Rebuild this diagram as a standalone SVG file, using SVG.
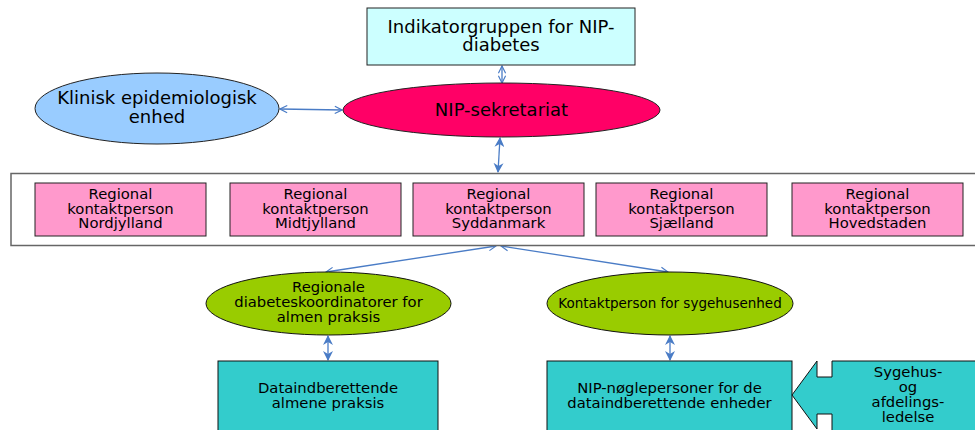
<svg xmlns="http://www.w3.org/2000/svg" width="975" height="430" viewBox="0 0 975 430">
<defs>
<style>
text{font-family:"DejaVu Sans","Liberation Sans",sans-serif;fill:#000;text-anchor:middle}
.t18{font-size:18px}
.t15{font-size:14.8px}
.t13{font-size:13.5px}
.box{stroke:#222;stroke-width:1}
.pink{fill:#FF99CC;stroke:#222;stroke-width:1}
.green{fill:#99CC00;stroke:#111;stroke-width:1}
.teal{fill:#33CCCC;stroke:#111;stroke-width:1}
.con{stroke:#4A7CC6;stroke-width:1.3;fill:none}
.open{marker-start:url(#vo);marker-end:url(#vo)}
.solid{marker-start:url(#vs);marker-end:url(#vs)}
</style>
<marker id="vo" viewBox="0 0 10 10" refX="9" refY="5" markerWidth="9" markerHeight="9" markerUnits="userSpaceOnUse" orient="auto-start-reverse">
<path d="M1,1 L9,5 L1,9" fill="none" stroke="#4A7CC6" stroke-width="1.3"/>
</marker>
<marker id="vs" viewBox="0 0 10 10" refX="9" refY="5" markerWidth="10" markerHeight="10" markerUnits="userSpaceOnUse" orient="auto-start-reverse">
<path d="M0,0 L10,5 L0,10 L3,5 Z" fill="#4A7CC6"/>
</marker>
</defs>

<g id="connectors">
<line class="con open" x1="502" y1="66" x2="502" y2="83"/>
<line class="con open" x1="280" y1="109" x2="342" y2="110"/>
<line class="con solid" x1="500" y1="138" x2="498" y2="172"/>
<line class="con open" x1="496" y1="246" x2="326" y2="272"/>
<line class="con open" x1="501" y1="246" x2="668" y2="272"/>
<line class="con solid" x1="328" y1="336" x2="328" y2="360"/>
<line class="con solid" x1="670" y1="336" x2="670" y2="360"/>
</g>

<g id="indikatorgruppen">
<rect x="367" y="8" width="268" height="57" fill="#CCFFFF" class="box"/>
<text class="t18" x="501" y="33">Indikatorgruppen for NIP-</text>
<text class="t18" x="501" y="51">diabetes</text>
</g>

<g id="klinisk">
<ellipse cx="157" cy="108.5" rx="122" ry="35.5" fill="#99CCFF" class="box"/>
<text class="t18" x="157" y="104">Klinisk epidemiologisk</text>
<text class="t18" x="157" y="123">enhed</text>
</g>

<g id="sekretariat">
<ellipse cx="501.5" cy="110" rx="158.5" ry="27" fill="#FF0066" class="box"/>
<text class="t18" x="501.5" y="116">NIP-sekretariat</text>
</g>

<g id="regioner">
<rect x="11" y="173.5" width="975" height="72" fill="#FFFFFF" stroke="#666" stroke-width="1.5"/>
</g>

<g id="nordjylland">
<rect class="pink" x="35" y="183" width="171" height="53"/>
<text class="t15" x="120.5" y="199">Regional</text>
<text class="t15" x="120.5" y="213.5">kontaktperson</text>
<text class="t15" x="120.5" y="228">Nordjylland</text>
</g>
<g id="midtjylland">
<rect class="pink" x="230" y="183" width="171" height="53"/>
<text class="t15" x="315.5" y="199">Regional</text>
<text class="t15" x="315.5" y="213.5">kontaktperson</text>
<text class="t15" x="315.5" y="228">Midtjylland</text>
</g>
<g id="syddanmark">
<rect class="pink" x="413" y="183" width="171" height="53"/>
<text class="t15" x="498.5" y="199">Regional</text>
<text class="t15" x="498.5" y="213.5">kontaktperson</text>
<text class="t15" x="498.5" y="228">Syddanmark</text>
</g>
<g id="sjaelland">
<rect class="pink" x="596" y="183" width="171" height="53"/>
<text class="t15" x="681.5" y="199">Regional</text>
<text class="t15" x="681.5" y="213.5">kontaktperson</text>
<text class="t15" x="681.5" y="228">Sjælland</text>
</g>
<g id="hovedstaden">
<rect class="pink" x="792" y="183" width="171" height="53"/>
<text class="t15" x="877.5" y="199">Regional</text>
<text class="t15" x="877.5" y="213.5">kontaktperson</text>
<text class="t15" x="877.5" y="228">Hovedstaden</text>
</g>

<g id="diabeteskoordinatorer">
<ellipse class="green" cx="328.5" cy="303.5" rx="122.5" ry="31.5"/>
<text class="t15" x="328.5" y="292">Regionale</text>
<text class="t15" x="328.5" y="307">diabeteskoordinatorer for</text>
<text class="t15" x="328.5" y="322">almen praksis</text>
</g>

<g id="kontaktperson-sygehus">
<ellipse class="green" cx="670" cy="303.5" rx="123" ry="31.5"/>
<text class="t13" x="670" y="308">Kontaktperson for sygehusenhed</text>
</g>

<g id="almene-praksis">
<rect class="teal" x="218" y="361" width="220" height="80"/>
<text class="t15" x="328" y="393">Dataindberettende</text>
<text class="t15" x="328" y="408">almene praksis</text>
</g>

<g id="noeglepersoner">
<rect class="teal" x="547" y="361" width="245" height="80"/>
<text class="t15" x="669.5" y="393">NIP-nøglepersoner for de</text>
<text class="t15" x="669.5" y="408">dataindberettende enheder</text>
</g>

<g id="ledelse">
<path class="teal" d="M792,395 L817,361 L817,377 L832,377 L832,361 L990,361 L990,445 L832,445 L832,414 L817,414 L817,429 Z"/>
<text class="t15" x="908" y="377">Sygehus-</text>
<text class="t15" x="908" y="392">og</text>
<text class="t15" x="908" y="407">afdelings-</text>
<text class="t15" x="908" y="422">ledelse</text>
</g>
</svg>
